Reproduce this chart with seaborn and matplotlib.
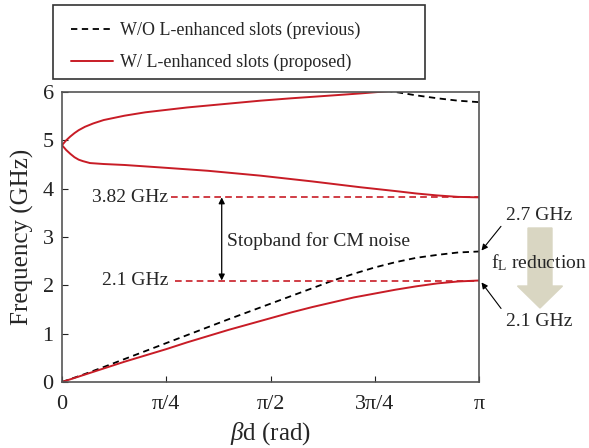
import numpy as np
import pandas as pd
import matplotlib
matplotlib.use('Agg')
import matplotlib.pyplot as plt
import matplotlib.patches as mpatches
from matplotlib.lines import Line2D
import seaborn as sns

# Values (beta given as fraction of pi, frequency in GHz)
red_low_x = [0, 0.05, 0.1, 0.15, 0.2, 0.25, 0.3, 0.35, 0.4, 0.45, 0.5, 0.55, 0.6, 0.65,
             0.7, 0.75, 0.8, 0.85, 0.9, 0.95, 1.0]
red_low_y = [0, 0.14, 0.28, 0.42, 0.55, 0.68, 0.82, 0.95, 1.08, 1.2, 1.32, 1.44, 1.55, 1.65,
             1.75, 1.83, 1.91, 1.98, 2.04, 2.08, 2.1]

red_mid_x = [0, 0.01, 0.02, 0.03, 0.04, 0.05, 0.067, 0.1, 0.15, 0.235, 0.35, 0.475, 0.6,
             0.715, 0.8, 0.85, 0.9, 0.95, 1.0]
red_mid_y = [4.9, 4.8, 4.72, 4.65, 4.6, 4.57, 4.53, 4.51, 4.49, 4.44, 4.37, 4.27, 4.15,
             4.03, 3.95, 3.9, 3.86, 3.83, 3.82]

red_top_x = [0, 0.01, 0.02, 0.03, 0.04, 0.055, 0.075, 0.1, 0.15, 0.2, 0.25, 0.3, 0.35,
             0.4, 0.475, 0.55, 0.6, 0.65, 0.715, 0.758, 0.8]
red_top_y = [4.9, 5.0, 5.08, 5.15, 5.21, 5.28, 5.35, 5.42, 5.51, 5.58, 5.63, 5.68, 5.72,
             5.76, 5.82, 5.87, 5.9, 5.93, 5.97, 6.0, 6.03]

blk_low_x = [0, 0.05, 0.1, 0.2, 0.3, 0.4, 0.5, 0.6, 0.65, 0.7, 0.75, 0.8, 0.85, 0.9,
             0.95, 1.0]
blk_low_y = [0, 0.15, 0.31, 0.64, 0.97, 1.3, 1.62, 1.94, 2.1, 2.24, 2.37, 2.48, 2.57, 2.63,
             2.68, 2.7]

blk_top_x = [0.7, 0.8, 0.85, 0.9, 0.95, 1.0]
blk_top_y = [6.12, 6.0, 5.93, 5.87, 5.82, 5.79]

x_ticks = [0, 0.25, 0.5, 0.75, 1.0]
x_tick_labels = ['0', 'π/4', 'π/2', '3π/4', 'π']
y_ticks = [0, 1, 2, 3, 4, 5, 6]

f_upper = 3.82
f_lower = 2.1
f_prev = 2.7

sns.set_style('ticks')
plt.rcParams['font.family'] = ['Liberation Serif', 'DejaVu Serif']
plt.rcParams['mathtext.fontset'] = 'custom'
plt.rcParams['mathtext.rm'] = 'Liberation Serif'
plt.rcParams['mathtext.it'] = 'Liberation Serif:italic'

RED = '#c81c26'
DASH = (0, (3.5, 2.5))
fig = plt.figure(figsize=(5.89, 4.48), dpi=100)
ax = fig.add_axes([62/589, 66/448, 417/589, 290/448])

def curve(xs, ys):
    return pd.DataFrame({'beta': np.array(xs) * np.pi, 'f': ys})

sns.lineplot(data=curve(blk_low_x, blk_low_y), x='beta', y='f', ax=ax, color='black',
             linestyle=DASH, lw=1.3, sort=False)
sns.lineplot(data=curve(blk_top_x, blk_top_y), x='beta', y='f', ax=ax, color='black',
             linestyle=DASH, lw=1.3, sort=False)
for xs, ys in [(red_low_x, red_low_y), (red_mid_x, red_mid_y), (red_top_x, red_top_y)]:
    sns.lineplot(data=curve(xs, ys), x='beta', y='f', ax=ax, color=RED, lw=1.4, sort=False)

ax.set_xlim(0, np.pi)
ax.set_ylim(0, 6)
ax.set_xticks(np.array(x_ticks) * np.pi)
ax.set_xticklabels(x_tick_labels)
ax.set_yticks(y_ticks)
ax.tick_params(direction='in', length=4, labelsize=16, colors='#222222', pad=6)
ax.tick_params(axis='x', pad=9)
for s in ax.spines.values():
    s.set_color('#555555')
    s.set_linewidth(1.2)
ax.set_xlabel(r'$\it{\beta}$d (rad)', fontsize=18, labelpad=5)
ax.set_ylabel('Frequency (GHz)', fontsize=18, labelpad=6)

# stopband markers
ax.hlines(f_upper, 0.262 * np.pi, np.pi, color=RED, linestyle=(0, (4, 2.5)), lw=1.2)
ax.hlines(f_lower, 0.272 * np.pi, np.pi, color=RED, linestyle=(0, (4, 2.5)), lw=1.2)
ax.text(0.255 * np.pi, f_upper, '3.82 GHz', ha='right', va='center', fontsize=14)
ax.text(0.255 * np.pi, f_lower, '2.1 GHz', ha='right', va='center', fontsize=14)
ax.annotate('', xy=(0.383 * np.pi, f_lower), xytext=(0.383 * np.pi, f_upper),
            arrowprops=dict(arrowstyle='<|-|>', color='black', lw=0.9,
                            mutation_scale=9, shrinkA=0, shrinkB=0))
ax.text(0.395 * np.pi, 2.92, 'Stopband for CM noise', ha='left', va='center', fontsize=14)

# big reduction arrow (drawn in figure inches)
big = mpatches.FancyArrow(5.40, 2.20, 0, -0.80, width=0.24, head_width=0.45,
                          head_length=0.22, length_includes_head=True,
                          color='#d9d6c2', transform=fig.dpi_scale_trans, zorder=1)
fig.patches.append(big)

ax.annotate('2.7 GHz', xy=(np.pi * 1.006, f_prev + 0.02), xytext=(506/589, 1 - 215/448),
            textcoords='figure fraction', ha='left', va='center', fontsize=14,
            annotation_clip=False,
            arrowprops=dict(arrowstyle='-|>', color='black', lw=0.8, mutation_scale=9,
                            shrinkA=2, shrinkB=0, relpos=(0.0, 0.2)))
ax.annotate('2.1 GHz', xy=(np.pi * 1.006, f_lower - 0.04), xytext=(506/589, 1 - 321/448),
            textcoords='figure fraction', ha='left', va='center', fontsize=14,
            annotation_clip=False,
            arrowprops=dict(arrowstyle='-|>', color='black', lw=0.8, mutation_scale=9,
                            shrinkA=2, shrinkB=0, relpos=(0.0, 0.85)))
fig.text(491/589, 1 - 263/448, r'f$_\mathregular{L}$ reduction', ha='left', va='center',
         fontsize=14, zorder=3)

# legend box drawn separately so its padding matches the picture
box = mpatches.Rectangle((53/589, 1 - 79/448), 372/589, 74/448, transform=fig.transFigure,
                         fill=False, edgecolor='#333333', lw=1.2)
fig.patches.append(box)
handles = [Line2D([], [], color='black', linestyle=DASH, lw=1.3),
           Line2D([], [], color=RED, lw=1.4)]
fig.legend(handles, ['W/O L-enhanced slots (previous)', 'W/ L-enhanced slots (proposed)'],
           loc='upper left', bbox_to_anchor=(71/589, 1 - 22/448), fontsize=13,
           frameon=False, handlelength=2.3, handletextpad=0.4, borderpad=0,
           labelspacing=0.8, borderaxespad=0)

fig.savefig('out.png', dpi=100)
